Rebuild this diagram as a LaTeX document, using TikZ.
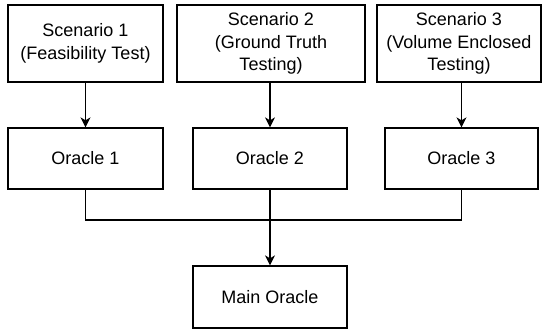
\documentclass[tikz,border=0pt]{standalone}
\usepackage{fontspec}
\setmainfont{Liberation Sans}
\usepackage{tikz}
\usetikzlibrary{positioning,arrows.meta}
\tikzset {
szenario/.style={shape=rectangle,draw,align=center,inner sep=0pt},
orakel/.style={shape=rectangle,draw,align=center,inner sep=0pt,minimum height=61pt}
}

\begin{document}
\begin{tikzpicture}
[x=1pt,y=-1pt,line width=1.3pt,>={Stealth[length=10pt,width=10pt,inset=3pt]},
 font=\fontsize{18}{22.5}\selectfont]
\useasboundingbox (0,0) rectangle (542,330);
\node (s1) at (85.5, 43.5) [szenario,minimum width=155pt,minimum height=77pt] {Scenario 1\\(Feasibility Test)};
\node (s2) at (271, 43.5) [szenario,minimum width=188pt,minimum height=77pt] {Scenario 2\\(Ground Truth\\Testing)};
\node (s3) at (459, 43.5) [szenario,minimum width=164pt,minimum height=77pt] {Scenario 3\\(Volume Enclosed\\Testing)};
\node (o1) at (85.5, 158.5) [orakel,minimum width=155pt] {Oracle 1};
\node (o2) at (270, 158.5) [orakel,minimum width=154pt] {Oracle 2};
\node (o3) at (461.5, 158.5) [orakel,minimum width=153pt] {Oracle 3};
\node (main) at (270, 297) [orakel,minimum width=154pt,minimum height=62pt] {Main Oracle};
\coordinate (j) at (270, 220);
\draw[->] (s1.south -| o1) -- (o1);
\draw[->] (s2.south -| o2) -- (o2);
\draw[->] (s3.south -| o3) -- (o3);
\draw (o1) |- (j) -| (o3);
\draw[->] (o2) -- (main);
\end{tikzpicture}
\end{document}
